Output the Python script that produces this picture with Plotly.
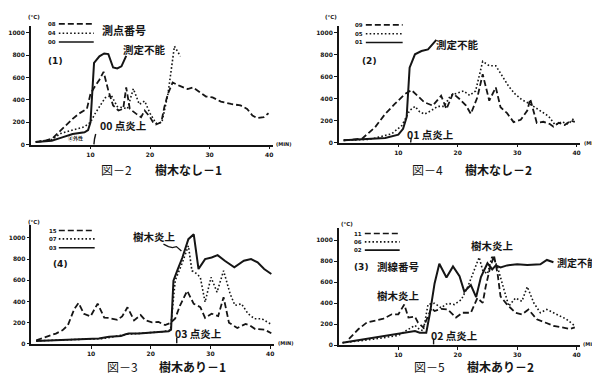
import plotly.graph_objects as go

W, H = 600, 384

# ---------------- data (minutes, °C) ----------------
# Fig-2 (1) 樹木なし-1
p1_t08 = [0.8, 2, 3.6, 5, 5.8, 7, 8, 9.4, 10, 10.5, 11.5, 12.2, 13, 13.8, 14.7, 15.5, 16, 16.6, 17.7, 18.5, 19.1, 20, 20.5, 21, 21.9, 22.4, 23, 23.8, 24.9, 26.3, 27.2, 28.3, 29.4, 30.5, 31.9, 33.6, 35.2, 36.3, 37.2, 38, 39.1, 39.9]
p1_v08 = [24, 30, 55, 130, 172, 230, 275, 320, 453, 500, 580, 651, 483, 350, 305, 320, 512, 320, 275, 246, 305, 246, 201, 180, 201, 335, 453, 556, 527, 497, 512, 468, 430, 423, 385, 364, 350, 320, 260, 237, 246, 281]
p1_t04 = [0.8, 3.5, 5, 7, 9, 10, 10.8, 12, 12.5, 13.5, 14.5, 15.5, 16.2, 17.2, 18.2, 19.1, 20, 21, 22, 23, 24.1, 25.1]
p1_v04 = [24, 45, 100, 130, 160, 200, 280, 380, 420, 440, 340, 330, 320, 500, 360, 390, 280, 190, 200, 450, 880, 790]
p1_t00 = [0.8, 2, 3.5, 5, 7, 9, 9.6, 10, 10.6, 11.5, 12.3, 13, 13.8, 14.5, 15.2, 16]
p1_v00 = [24, 28, 35, 60, 95, 110, 130, 200, 730, 790, 815, 810, 690, 681, 700, 793]

# Fig-4 (2) 樹木なし-2
p2_t09 = [0.8, 3.9, 6.1, 7.8, 9.4, 11.1, 12.2, 13.3, 14.4, 15.8, 17.2, 18.1, 19.2, 20.3, 21.4, 22.2, 23.3, 24.2, 25.3, 26.4, 27.2, 28.3, 29.4, 30.6, 31.7, 32.2, 33.3, 34.4, 35.5, 36.1, 37, 38, 39, 39.7]
p2_v09 = [21, 36, 141, 262, 352, 442, 479, 427, 367, 337, 427, 307, 448, 397, 337, 262, 412, 623, 382, 503, 322, 268, 187, 208, 292, 397, 180, 190, 170, 145, 180, 160, 200, 190]
p2_t05 = [0.8, 5, 6.1, 8.9, 10.6, 11.4, 11.9, 12.8, 13.6, 14.4, 15.5, 16.6, 17.7, 18.8, 19.9, 21, 22, 23, 24.2, 25.3, 26.4, 27.5, 28.6, 29.7, 30.8, 31.9, 33, 34.2, 35.3, 36.4, 37.5, 38.6, 39.7]
p2_v05 = [21, 30, 42, 81, 156, 232, 292, 330, 280, 260, 290, 330, 330, 430, 450, 470, 430, 470, 740, 700, 700, 600, 510, 440, 390, 360, 320, 280, 240, 160, 190, 170, 230]
p2_t01 = [0.8, 5, 7.8, 10, 10.8, 11.4, 11.9, 12.8, 13.9, 15, 15.8, 16.4]
p2_v01 = [21, 30, 42, 72, 126, 232, 683, 804, 834, 849, 894, 935]

# Fig-3 (4) 樹木あり-1
p3_t15 = [0.8, 2.4, 4.1, 5.2, 6.1, 7.2, 7.9, 8.8, 9.9, 11.1, 12.2, 13, 14.4, 15.2, 16.1, 17.2, 18.3, 19.1, 20.2, 21.3, 22.4, 23.3, 24.1, 24.9, 26.1, 27.2, 28.3, 29.1, 30.2, 31.3, 32.2, 33.1, 34.5, 35.9, 36.6, 37.5, 39.1, 40.2]
p3_v15 = [34, 66, 97, 128, 175, 331, 385, 284, 259, 380, 247, 244, 226, 259, 345, 222, 272, 222, 203, 206, 177, 197, 240, 362, 500, 378, 347, 245, 285, 262, 440, 200, 150, 188, 175, 140, 134, 100]
p3_t07 = [0.8, 7, 12, 16, 20, 22, 23.3, 24.1, 25.2, 26.3, 26.9, 27.4, 28.3, 29.1, 30.1, 31.1, 32.2, 33.3, 34.1, 35.2, 36.3, 37.4, 38.6, 40.2]
p3_v07 = [28, 40, 50, 90, 105, 115, 130, 600, 753, 925, 690, 675, 628, 394, 628, 488, 690, 472, 363, 378, 284, 237, 237, 184]
p3_t03 = [0.8, 7.4, 11.3, 13, 15, 15.8, 16.3, 18, 19.7, 21.3, 23, 23.4, 23.8, 24.5, 25.3, 26.3, 27.2, 28, 29.1, 30.2, 31.2, 32.4, 34, 35.6, 36.8, 37.9, 39, 40.2]
p3_v03 = [28, 44, 50, 66, 75, 90, 97, 97, 106, 112, 119, 134, 597, 700, 815, 988, 1034, 706, 800, 815, 837, 784, 722, 784, 800, 769, 706, 659]

# Fig-5 (3) 樹木あり-2
p4_t11 = [1.7, 3.3, 4.7, 6.1, 7.5, 8.9, 10, 11, 11.7, 12.8, 13.3, 14.2, 14.7, 15.6, 16.1, 17.2, 18.3, 19.7, 20.8, 22.2, 23.3, 24.2, 24.7, 25.4, 26.1, 26.7, 27.2, 28.3, 29.7, 30.8, 31.9, 33.3, 34.7, 36.1, 37.5, 38.9, 39.7]
p4_v11 = [62, 155, 217, 233, 254, 295, 295, 388, 264, 273, 217, 171, 233, 357, 326, 347, 341, 264, 310, 310, 450, 403, 558, 729, 853, 682, 465, 388, 310, 295, 341, 248, 217, 186, 171, 155, 171]
p4_t06 = [0.6, 3, 6.1, 10, 12.8, 13.6, 14.2, 15, 16.1, 17.2, 18.3, 19.4, 20.6, 21.7, 22.8, 23.6, 24.2, 25, 25.8, 26.7, 27.8, 28.6, 29.7, 30.8, 31.7, 32.8, 33.9, 35, 36.1, 37.2, 38.3, 39.7]
p4_v06 = [25, 40, 60, 95, 190, 150, 140, 390, 400, 357, 400, 388, 434, 558, 713, 837, 713, 680, 853, 744, 527, 372, 450, 419, 558, 403, 310, 341, 310, 279, 248, 186]
p4_t02 = [0.6, 6.1, 10, 12.8, 13.6, 14.7, 15.3, 16.1, 16.9, 18.1, 19.2, 20.3, 21.1, 22.2, 23.1, 23.9, 25, 25.8, 26.4, 27.2, 28.3, 30, 31.7, 33.9, 35, 36.1]
p4_v02 = [25, 73, 105, 136, 120, 120, 300, 589, 775, 645, 750, 657, 511, 573, 459, 650, 781, 722, 760, 740, 760, 770, 765, 770, 812, 790]

y_ticks = [0, 200, 400, 600, 800, 1000]
x_ticks = [10, 20, 30, 40]

# ---------------- styles ----------------
INK = "#151515"
DASH = "6px,3px"
DOT = "1.6px,2.2px"
st_dash = dict(color=INK, width=1.8, dash=DASH)
st_dot = dict(color=INK, width=1.6, dash=DOT)
st_solid = dict(color=INK, width=2.0)

# panel pixel geometry: x=0, x=40, y=0, y=1000
geo = {
    1: dict(x0=22, x40=261, y0=137.7, y1k=25, ymax=1060),
    2: dict(x0=331, x40=569.5, y0=135.7, y1k=25, ymax=1060),
    3: dict(x0=22.5, x40=262, y0=338.5, y1k=231.7, ymax=1120),
    4: dict(x0=331, x40=569.5, y0=340, y1k=234, ymax=1120),
}
XMAX = 40.6

fig = go.Figure()

series = [
    (1, p1_t08, p1_v08, st_dash), (1, p1_t04, p1_v04, st_dot), (1, p1_t00, p1_v00, st_solid),
    (2, p2_t09, p2_v09, st_dash), (2, p2_t05, p2_v05, st_dot), (2, p2_t01, p2_v01, st_solid),
    (3, p3_t15, p3_v15, st_dash), (3, p3_t07, p3_v07, st_dot), (3, p3_t03, p3_v03, st_solid),
    (4, p4_t11, p4_v11, st_dash), (4, p4_t06, p4_v06, st_dot), (4, p4_t02, p4_v02, st_solid),
]
for k, t, v, st in series:
    sfx = "" if k == 1 else str(k)
    fig.add_trace(go.Scatter(x=t, y=v, mode="lines", line=st, xaxis="x" + sfx, yaxis="y" + sfx,
                             hoverinfo="skip", showlegend=False))

tickfont = dict(family="DejaVu Sans", size=6, color=INK, weight=700)
layout = dict(width=W, height=H, margin=dict(l=0, r=0, t=0, b=0),
              paper_bgcolor="white", plot_bgcolor="white", showlegend=False)
for k, g in geo.items():
    sfx = "" if k == 1 else str(k)
    pxr = (g["x40"] - g["x0"]) / 40.0
    pyr = (g["y0"] - g["y1k"]) / 1000.0
    xd = [g["x0"] / W, (g["x0"] + XMAX * pxr) / W]
    yd = [1 - g["y0"] / H, 1 - (g["y0"] - g["ymax"] * pyr) / H]
    layout["xaxis" + sfx] = dict(domain=xd, range=[0, XMAX], anchor="y" + sfx, showline=True,
                                 linecolor=INK, linewidth=1.6, ticks="outside", ticklen=3,
                                 tickcolor=INK, tickvals=x_ticks, tickfont=tickfont,
                                 showgrid=False, zeroline=False, fixedrange=True)
    layout["yaxis" + sfx] = dict(domain=yd, range=[0, g["ymax"]], anchor="x" + sfx, showline=True,
                                 linecolor=INK, linewidth=1.6, ticks="outside", ticklen=3,
                                 tickcolor=INK, tickvals=y_ticks, tickfont=tickfont,
                                 showgrid=False, zeroline=False, fixedrange=True)
fig.update_layout(**layout)

# ---------------- annotations / decorations (pixel positions -> paper) ----------------
JP = "Noto Sans CJK JP"
ann = []
shapes = []


def P(px, py):
    return px / W, 1 - py / H


def text(s, px, py, size=11, bold=True, family=JP, xanchor="center"):
    x, y = P(px, py)
    ann.append(dict(x=x, y=y, xref="paper", yref="paper", text=("<b>%s</b>" % s) if bold else s,
                    showarrow=False, xanchor=xanchor, yanchor="middle",
                    font=dict(family=family, size=size, color=INK)))


def seg(pts, st):
    path = "M " + " L ".join("%.4f,%.4f" % P(a, b) for a, b in pts)
    shapes.append(dict(type="path", path=path, xref="paper", yref="paper", line=st))


def legend(rows, xnum, xl0, xl1):
    for lab, py, st in rows:
        text(lab, xnum, py, size=5.5, family="DejaVu Sans")
        seg([(xl0, py), (xl1, py)], dict(color=st["color"], width=1.6, dash=st.get("dash", "solid")))


# Panel 1
text("(°C)", 25, 9, size=5.5, family="DejaVu Sans")
text("(MIN)", 276, 137, size=5, family="DejaVu Sans")
legend([("08", 16, st_dash), ("04", 25.5, st_dot), ("00", 34.3, st_solid)], 43, 50, 85)
text("測点番号", 115, 22, size=11)
text("(1)", 47, 53, size=9, family="DejaVu Sans")
text("測定不能", 136, 42, size=10.5)
text("00 点炎上", 115, 118, size=10.5)
text("④外性", 67, 131, size=5)
seg([(85.2, 137.5), (85.8, 132), (87, 127)], dict(color=INK, width=1.4))

# Panel 2
text("(°C)", 323, 9, size=5.5, family="DejaVu Sans")
text("(MIN)", 585, 136, size=5, family="DejaVu Sans")
legend([("09", 17, st_dash), ("05", 26, st_dot), ("01", 34.7, st_solid)], 351, 358, 395)
text("測定不能", 450, 37, size=10.5)
text("(2)", 362, 53, size=9, family="DejaVu Sans")
text("01 点炎上", 423, 128, size=10.5)
seg([(403, 135.5), (403.5, 131)], dict(color=INK, width=1.4))

# Panel 3
text("(°C)", 25, 216, size=5.5, family="DejaVu Sans")
text("(MIN)", 278, 338, size=5, family="DejaVu Sans")
legend([("15", 224.3, st_dash), ("07", 232.7, st_dot), ("03", 241.7, st_solid)], 44, 50, 86)
text("樹木炎上", 146, 230, size=10.5)
seg([(155, 238), (160, 240.5), (164, 241.5), (168, 240.5), (173, 245)], dict(color=INK, width=1.3))
text("(4)", 52, 258, size=9, family="DejaVu Sans")
text("03 点炎上", 190, 328, size=10.5)
seg([(168.3, 338), (168.3, 332)], dict(color=INK, width=1.4))

# Panel 4
text("(°C)", 339, 218, size=5.5, family="DejaVu Sans")
text("(MIN)", 584, 339, size=5, family="DejaVu Sans")
legend([("11", 227.3, st_dash), ("06", 235.7, st_dot), ("02", 244, st_solid)], 350, 357, 392)
text("(3)", 354, 261, size=9, family="DejaVu Sans")
text("測線番号", 390, 261, size=10.5)
text("樹木炎上", 391, 290, size=10.5)
text("樹木炎上", 485, 239, size=10.5)
text("測定不能", 570, 257, size=10)
text("02 点炎上", 447, 330, size=10.5)
seg([(426, 339), (426, 333)], dict(color=INK, width=1.4))

# Captions
text("図－2", 108, 163, size=12, bold=False)
text("樹木なし－1", 180, 163, size=12)
text("図－4", 420, 163, size=12, bold=False)
text("樹木なし－2", 491, 163, size=12)
text("図－3", 114, 361, size=12, bold=False)
text("樹木あり－1", 184, 361, size=12)
text("図－5", 422, 361, size=12, bold=False)
text("樹木あり－2", 493, 361, size=12)

fig.update_layout(annotations=ann, shapes=shapes)
fig.write_html("out.html")
